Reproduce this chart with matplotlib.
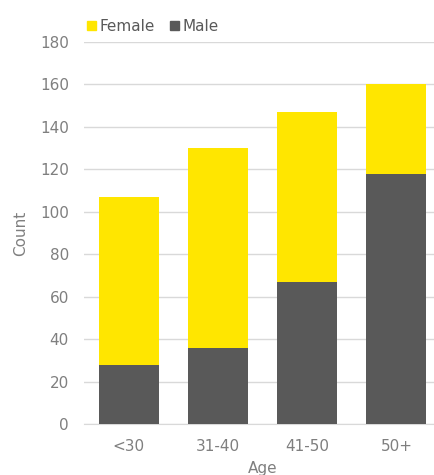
import matplotlib
matplotlib.use("Agg")
import matplotlib.pyplot as plt
from matplotlib.patches import Patch

categories = ["<30", "31-40", "41-50", "50+"]
male = [28, 36, 67, 118]
female = [79, 94, 80, 42]

W, H = 434, 475
fig = plt.figure(figsize=(W/100, H/100), dpi=100)
# axes: left 84px, right 441px (beyond image), bottom 424px, top 42px
ax = fig.add_axes([84/W, 1-424/H, (441-84)/W, (424-42)/H])

x = list(range(len(categories)))
ax.bar(x, male, width=0.672, color="#595959", label="Male", zorder=3)
ax.bar(x, female, width=0.672, bottom=male, color="#FFE600", label="Female", zorder=3)

ax.set_xlim(-0.5, len(categories) - 0.5)
ax.set_ylim(0, 180)
ax.set_yticks(range(0, 181, 20))
ax.set_xticks(x)
ax.set_xticklabels(categories)
ax.grid(axis="y", color="#d9d9d9", linewidth=1, zorder=0)
for s in ["top", "right", "left"]:
    ax.spines[s].set_visible(False)
ax.spines["bottom"].set_color("#d9d9d9")
ax.tick_params(axis="both", length=0, colors="#7f7f7f", labelsize=11)
ax.tick_params(axis="y", pad=10.8)
ax.tick_params(axis="x", pad=10.5)
ax.set_xlabel("Age", color="#7f7f7f", fontsize=11, labelpad=5)
ax.set_ylabel("Count", color="#7f7f7f", fontsize=11, labelpad=8.6)

handles = [Patch(color="#FFE600"), Patch(color="#595959")]
fig.legend(handles, ["Female", "Male"], loc="upper left",
           bbox_to_anchor=(73/W, 1-5/H), ncol=2, frameon=False,
           fontsize=11, handlelength=0.6, handleheight=0.6,
           handletextpad=0.25, columnspacing=0.95, labelcolor="#595959")

fig.savefig("out.png", dpi=100)
